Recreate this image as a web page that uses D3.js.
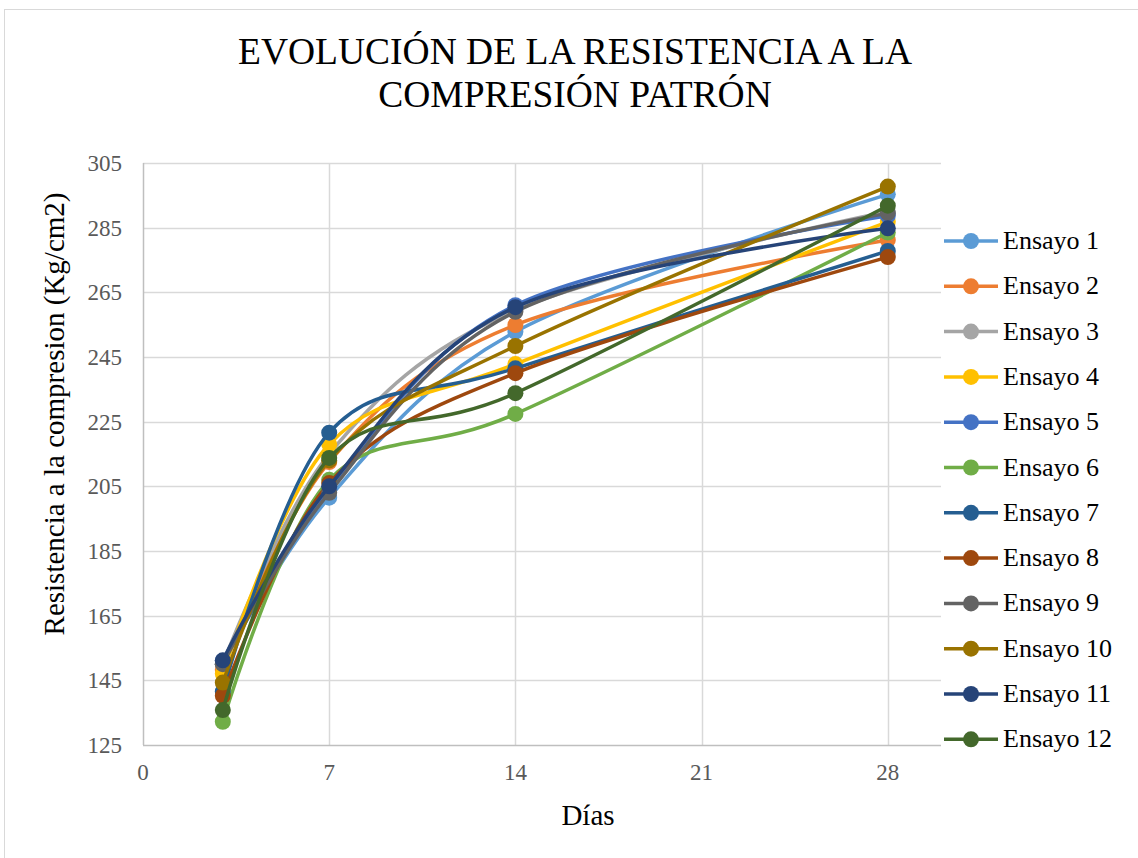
<!DOCTYPE html>
<html><head><meta charset="utf-8">
<script src="https://cdn.jsdelivr.net/npm/d3@7/dist/d3.min.js"></script>
<style>body{margin:0;background:#fff}svg{display:block}</style>
</head><body><svg id="c" width="1138" height="858"></svg>
<script>
const days = [3, 7, 14, 28];
const seriesNames = ["Ensayo 1","Ensayo 2","Ensayo 3","Ensayo 4","Ensayo 5","Ensayo 6","Ensayo 7","Ensayo 8","Ensayo 9","Ensayo 10","Ensayo 11","Ensayo 12"];
const ensayo1  = [150, 201.5, 252.8, 295.3];
const ensayo2  = [148.2, 212.5, 254.9, 281.2];
const ensayo3  = [150, 215, 259.5, 290];
const ensayo4  = [147, 218, 242.8, 286.8];
const ensayo5  = [151, 204, 261, 288.7];
const ensayo6  = [132.2, 207, 227.4, 283.5];
const ensayo7  = [141.5, 221.6, 241.5, 277.8];
const ensayo8  = [140.2, 206, 240, 275.9];
const ensayo9  = [150, 203, 259, 289.5];
const ensayo10 = [144.3, 213, 248.4, 297.7];
const ensayo11 = [151.2, 205, 260.4, 284.8];
const ensayo12 = [135.8, 213.8, 233.8, 291.8];
const allSeries = [ensayo1,ensayo2,ensayo3,ensayo4,ensayo5,ensayo6,ensayo7,ensayo8,ensayo9,ensayo10,ensayo11,ensayo12];
const colors = ["#5B9BD5","#ED7D31","#A5A5A5","#FFC000","#4472C4","#70AD47","#255E91","#9E480E","#636363","#997300","#264478","#43682B"];
const xTicks = [0, 7, 14, 21, 28];
const yTicks = [125,145,165,185,205,225,245,265,285,305];
const titleLines = ["EVOLUCIÓN DE LA RESISTENCIA A LA", "COMPRESIÓN PATRÓN"];
const xTitle = "Días";
const yTitle = "Resistencia a la compresion (Kg/cm2)";

const svg = d3.select("#c");
const font = "'Liberation Serif','Times New Roman',serif";
svg.append("rect").attr("x",4.5).attr("y",9.5).attr("width",1140).attr("height",860)
  .attr("fill","#fff").attr("stroke","#d9d9d9").attr("stroke-width",1);

const x = d3.scaleLinear().domain([0,30]).range([143,941]);
const y = d3.scaleLinear().domain([125,305]).range([745,163]);

// gridlines
svg.append("g").selectAll("line").data(yTicks.slice(1)).join("line")
  .attr("x1",143).attr("x2",941).attr("y1",d=>Math.round(y(d))+0.5).attr("y2",d=>Math.round(y(d))+0.5)
  .attr("stroke","#d9d9d9").attr("stroke-width",1.5);
svg.append("g").selectAll("line").data(xTicks.slice(1)).join("line")
  .attr("y1",163).attr("y2",745).attr("x1",d=>Math.round(x(d))+0.5).attr("x2",d=>Math.round(x(d))+0.5)
  .attr("stroke","#d9d9d9").attr("stroke-width",1.5);
// axes lines
svg.append("line").attr("x1",143).attr("x2",941).attr("y1",745.5).attr("y2",745.5).attr("stroke","#bfbfbf").attr("stroke-width",1.5);
svg.append("line").attr("x1",143.5).attr("x2",143.5).attr("y1",163).attr("y2",745).attr("stroke","#bfbfbf").attr("stroke-width",1.5);

// tick labels
svg.append("g").selectAll("text").data(yTicks).join("text")
  .attr("x",122).attr("y",d=>y(d)+8).attr("text-anchor","end")
  .attr("font-family",font).attr("font-size",23).attr("fill","#595959").text(d=>d);
svg.append("g").selectAll("text").data(xTicks).join("text")
  .attr("x",d=>x(d)).attr("y",780).attr("text-anchor","middle")
  .attr("font-family",font).attr("font-size",23).attr("fill","#595959").text(d=>d);

// titles
svg.append("g").selectAll("text").data(titleLines).join("text")
  .attr("x",575).attr("y",(d,i)=>64+i*43).attr("text-anchor","middle")
  .attr("font-family",font).attr("font-size",37.5).attr("fill","#000").text(d=>d);
svg.append("text").attr("x",588).attr("y",825).attr("text-anchor","middle")
  .attr("font-family",font).attr("font-size",29).attr("fill","#000").text(xTitle);
svg.append("text").attr("transform","translate(64,414) rotate(-90)").attr("text-anchor","middle")
  .attr("font-family",font).attr("font-size",29).attr("fill","#000").text(yTitle);

// series
const line = d3.line().x(d=>x(d[0])).y(d=>y(d[1])).curve(d3.curveCardinal.tension(0));
const g = svg.append("g");
allSeries.forEach((vals,i)=>{
  const pts = days.map((d,j)=>[d, vals[j]]);
  const sg = g.append("g");
  sg.append("path").attr("d",line(pts)).attr("fill","none").attr("stroke",colors[i]).attr("stroke-width",3.5).attr("stroke-linecap","round");
  sg.selectAll("circle").data(pts).join("circle").attr("cx",d=>x(d[0])).attr("cy",d=>y(d[1])).attr("r",8).attr("fill",colors[i]);
});

// legend
const lg = svg.append("g");
seriesNames.forEach((n,i)=>{
  const yy = 241 + i*45.3;
  lg.append("line").attr("x1",944).attr("x2",998).attr("y1",yy).attr("y2",yy).attr("stroke",colors[i]).attr("stroke-width",3.5);
  lg.append("circle").attr("cx",971).attr("cy",yy).attr("r",8).attr("fill",colors[i]);
  lg.append("text").attr("x",1003).attr("y",yy+8).attr("font-family",font).attr("font-size",26).attr("fill","#000").text(n);
});
</script></body></html>
